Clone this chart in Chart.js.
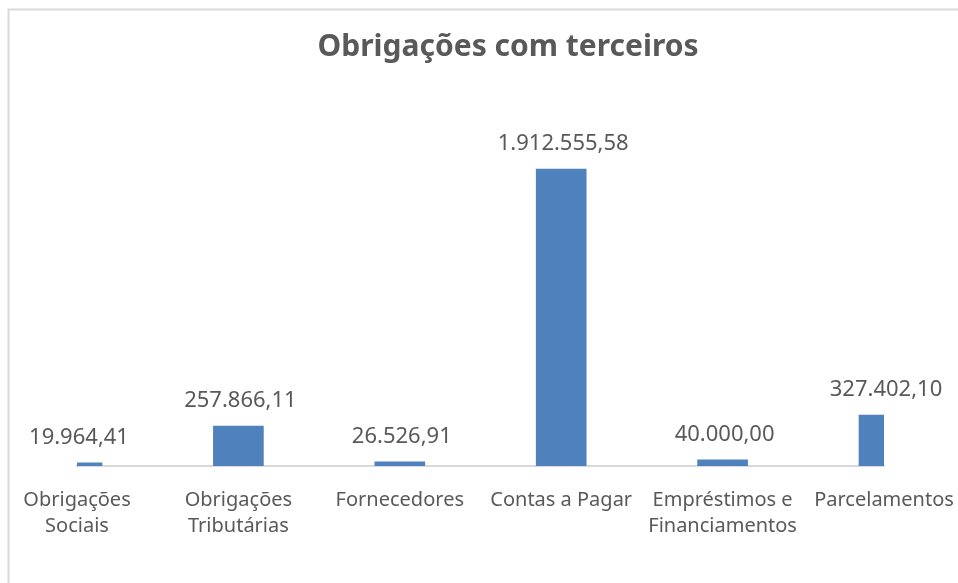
<!DOCTYPE html>
<html>
<head>
<meta charset="utf-8">
<title>Obrigações com terceiros</title>
<script src="https://cdn.jsdelivr.net/npm/chart.js@4.4.1/dist/chart.umd.min.js"></script>
<style>
  html, body { margin: 0; padding: 0; background: #fff; }
  canvas { display: block; }
</style>
</head>
<body>
<canvas id="chart" width="958" height="583"></canvas>
<script>
// chart data
const categories = [
  ['Obrigações', 'Sociais'],
  ['Obrigações', 'Tributárias'],
  'Fornecedores',
  'Contas a Pagar',
  ['Empréstimos e', 'Financiamentos'],
  'Parcelamentos'
];
const values = [19964.41, 257866.11, 26526.91, 1912555.58, 40000.00, 327402.10];
const chartTitle = 'Obrigações com terceiros';

const textColor = '#595959';
const barColor = '#4F81BD';

//format numbers the brazilian way: 1.912.555,58
const formatBR = (n) => {
  const parts = n.toFixed(2).split('.');
  const intPart = parts[0].replace(/\B(?=(\d{3})+(?!\d))/g, '.');
  return intPart + ',' + parts[1];
};

//light grey frame (top and left edges only visible in the picture)
const framePlugin = {
  id: 'frame',
  beforeDraw(chart) {
    const ctx = chart.ctx;
    ctx.save();
    ctx.fillStyle = '#fff';
    ctx.fillRect(0, 0, chart.width, chart.height);
    ctx.strokeStyle = '#d9d9d9';
    ctx.lineWidth = 2;
    ctx.beginPath();
    ctx.moveTo(8.5, chart.height);
    ctx.lineTo(8.5, 9.5);
    ctx.lineTo(chart.width, 9.5);
    ctx.stroke();
    ctx.restore();
  }
};

//title drawn by hand so it can sit off centre like the original
const titlePlugin = {
  id: 'offTitle',
  afterDraw(chart) {
    const ctx = chart.ctx;
    ctx.save();
    ctx.font = 'bold 30px "Noto Sans"';
    ctx.fillStyle = textColor;
    ctx.textAlign = 'center';
    ctx.textBaseline = 'alphabetic';
    ctx.fillText(chartTitle, 508, 56);
    ctx.restore();
  }
};

//value labels above each bar
const valueLabels = {
  id: 'valueLabels',
  afterDatasetsDraw(chart) {
    const ctx = chart.ctx;
    const meta = chart.getDatasetMeta(0);
    ctx.save();
    ctx.font = '22px "Noto Sans"';
    ctx.fillStyle = textColor;
    ctx.textAlign = 'center';
    ctx.textBaseline = 'alphabetic';
    meta.data.forEach((bar, i) => {
      ctx.fillText(formatBR(values[i]), bar.x + 2, bar.y - 19);
    });
    ctx.restore();
  }
};

new Chart(document.getElementById('chart'), {
  type: 'bar',
  data: {
    labels: categories,
    datasets: [{
      data: values,
      backgroundColor: barColor,
      borderWidth: 0,
      barThickness: 50,
      clip: 0
    }]
  },
  options: {
    responsive: false,
    animation: false,
    layout: {
      padding: { top: 78, left: 77, right: 74, bottom: 23 }
    },
    plugins: {
      legend: { display: false },
      title: { display: false },
      tooltip: { enabled: false }
    },
    scales: {
      x: {
        offset: false,
        grid: { display: false, drawTicks: false },
        border: { display: true, color: '#d9d9d9', width: 2 },
        //labels may spill past the plot edges, layout padding handles the room
        afterFit(scale) {
          scale.paddingLeft = 0;
          scale.paddingRight = 0;
        },
        ticks: {
          color: textColor,
          font: { family: 'Noto Sans', size: 20, lineHeight: 1.3 },
          padding: 21,
          autoSkip: false,
          maxRotation: 0,
          minRotation: 0
        }
      },
      y: {
        display: false,
        min: 0,
        max: 2500000
      }
    }
  },
  plugins: [framePlugin, titlePlugin, valueLabels]
});
</script>
</body>
</html>
